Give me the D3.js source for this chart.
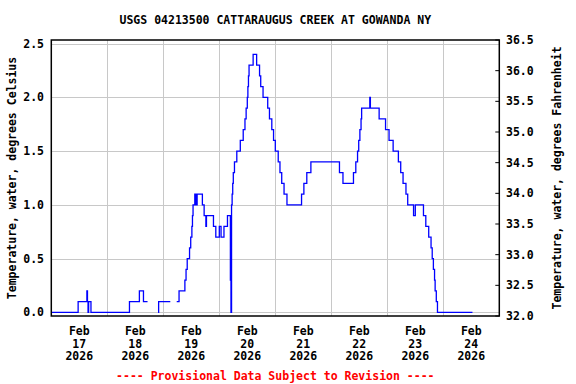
<!DOCTYPE html>
<html><head><meta charset="utf-8">
<script src="https://cdn.jsdelivr.net/npm/d3@7"></script>
<style>
html,body{margin:0;padding:0;background:#fff;}
text{font-family:"DejaVu Sans Mono",monospace;font-weight:bold;font-size:11.5px;}
</style></head>
<body><svg id="c" width="576" height="384"></svg>
<script>
// ---- data ----
const title = "USGS 04213500 CATTARAUGUS CREEK AT GOWANDA NY";
const footer = "---- Provisional Data Subject to Revision ----";
const yLeftTitle = "Temperature, water, degrees Celsius";
const yRightTitle = "Temperature, water, degrees Fahrenheit";
const startDate = "2026-02-17T00:00:00Z";
const endDate = "2026-02-25T00:00:00Z";
const dayTickLabels = [["Feb","17","2026"],["Feb","18","2026"],["Feb","19","2026"],["Feb","20","2026"],
  ["Feb","21","2026"],["Feb","22","2026"],["Feb","23","2026"],["Feb","24","2026"]];
const celsiusTicks = [0.0,0.5,1.0,1.5,2.0,2.5];
const fahrenheitTicks = [32.0,32.5,33.0,33.5,34.0,34.5,35.0,35.5,36.0,36.5];
// hours since start, null = gap
const hours = [0,11.5,15.25,15.5,15.75,16.0,17.0,33.5,37.75,39.5,41.25,
  null,
  45.75,46.0,51.0,
  null,
  53.75,54.75,57.25,57.75,58.25,59.25,59.75,60.25,60.5,60.75,61.5,62.0,62.5,64.75,65.5,66.25,66.5,69.5,70.5,72.0,72.75,74.0,75.5,
  76.75,77.0,77.25,77.5,77.75,78.0,78.5,79.5,81.0,82.25,83.0,83.5,84.0,84.25,84.5,84.75,86.5,88.0,89.25,89.75,90.75,92.75,93.5,
  94.5,95.25,96.0,97.25,98.0,98.75,99.75,101.0,107.25,108.25,109.5,111.25,123.5,125.0,129.5,130.5,131.25,131.75,132.25,132.75,
  133.0,136.5,136.75,140.5,143.25,144.75,146.5,148.75,149.75,150.75,152.0,152.75,155.25,156.0,159.5,160.5,161.75,162.75,163.25,
  163.75,164.25,164.5,165.0,165.5,180.5];
const tempC = [0.0,0.1,0.2,0.1,0.0,0.1,0.0,0.1,0.2,0.1,0.1,
  null,
  0.0,0.1,0.1,
  null,
  0.1,0.2,0.3,0.4,0.5,0.6,0.7,0.8,0.9,1.0,1.1,1.0,1.1,1.0,0.9,0.8,0.9,0.8,0.7,0.8,0.7,0.8,0.9,
  0.3,0.0,1.0,1.1,1.2,1.3,1.4,1.5,1.6,1.7,1.8,1.9,2.0,2.1,2.2,2.3,2.4,2.3,2.2,2.1,2.0,1.9,1.8,
  1.7,1.6,1.5,1.4,1.3,1.2,1.1,1.0,1.1,1.2,1.3,1.4,1.3,1.2,1.3,1.4,1.5,1.6,1.7,1.8,
  1.9,2.0,1.9,1.8,1.7,1.6,1.5,1.4,1.3,1.2,1.1,1.0,0.9,1.0,0.9,0.8,0.7,0.6,0.5,
  0.4,0.3,0.2,0.1,0.0,0.0];

// ---- layout ----
const L = 51.3, R = 499.3, T = 40, B = 316;
const svg = d3.select("#c");
const t0 = new Date(startDate), t1 = new Date(endDate);
const x = d3.scaleUtc().domain([t0, t1]).range([L, R]);
const yC = d3.scaleLinear().domain([0, 2.5]).range([312.3, 43.7]);
const yF = d3.scaleLinear().domain([32, 36.5]).range([B, T]);

const pts = hours.map((h, i) => h === null ? null : {t: new Date(t0.getTime() + h * 3600e3), v: tempC[i]});

// gridlines
const days = d3.utcDay.range(d3.utcDay.offset(t0, 1), t1);
svg.append("g").selectAll("line").data(days).join("line")
  .attr("x1", d => Math.round(x(d)) + 0.5).attr("x2", d => Math.round(x(d)) + 0.5)
  .attr("y1", T).attr("y2", B).attr("stroke", "#c8c8c8").attr("stroke-width", 1);
svg.append("g").selectAll("line").data(celsiusTicks).join("line")
  .attr("x1", L).attr("x2", R)
  .attr("y1", d => Math.round(yC(d)) + 0.5).attr("y2", d => Math.round(yC(d)) + 0.5)
  .attr("stroke", "#c8c8c8").attr("stroke-width", 1);

// right inner ticks
svg.append("g").selectAll("line").data(fahrenheitTicks).join("line")
  .attr("x1", R - 4).attr("x2", R)
  .attr("y1", d => yF(d)).attr("y2", d => yF(d))
  .attr("stroke", "#000").attr("stroke-width", 1);

// data line
const line = d3.line().defined(d => d !== null).x(d => x(d.t)).y(d => yC(d.v)).curve(d3.curveStepAfter);
svg.append("path").datum(pts).attr("d", line).attr("fill", "none")
  .attr("stroke", "#0000ff").attr("stroke-width", 1.3);

// frame
svg.append("rect").attr("x", L).attr("y", T).attr("width", R - L).attr("height", B - T)
  .attr("fill", "none").attr("stroke", "#000").attr("stroke-width", 1.5);

// left labels
svg.append("g").selectAll("text").data(celsiusTicks).join("text")
  .attr("x", 44).attr("y", d => yC(d)).attr("dy", "0.35em").attr("text-anchor", "end")
  .text(d => d.toFixed(1));
// right labels
svg.append("g").selectAll("text").data(fahrenheitTicks).join("text")
  .attr("x", 506).attr("y", d => yF(d)).attr("dy", "0.35em").attr("text-anchor", "start")
  .text(d => d.toFixed(1));

// bottom labels
const noonDays = d3.utcDay.range(t0, t1);
const g = svg.append("g").selectAll("text").data(noonDays).join("text")
  .attr("text-anchor", "middle");
g.each(function(d, i) {
  const cx = x(new Date(d.getTime() + 12 * 3600e3));
  const el = d3.select(this);
  dayTickLabels[i].forEach((s, k) => {
    el.append("tspan").attr("x", cx).attr("y", 335 + k * 12.5).text(s);
  });
});

// titles
svg.append("text").attr("x", (L + R) / 2).attr("y", 24).attr("text-anchor", "middle").text(title);
svg.append("text").attr("transform", "translate(12,178) rotate(-90)").attr("dy", "0.35em")
  .attr("text-anchor", "middle").text(yLeftTitle);
svg.append("text").attr("transform", "translate(556.5,178) rotate(-90)").attr("dy", "0.35em")
  .attr("text-anchor", "middle").text(yRightTitle);
svg.append("text").attr("x", (L + R) / 2).attr("y", 379.5).attr("text-anchor", "middle")
  .attr("fill", "#ff0000").text(footer);
</script></body></html>
